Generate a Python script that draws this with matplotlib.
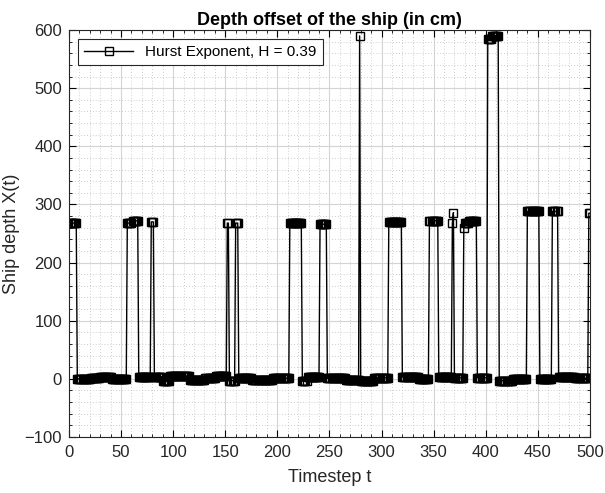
import numpy as np
import matplotlib
matplotlib.use('Agg')
import matplotlib.pyplot as plt
from matplotlib.ticker import MultipleLocator

run_lengths = [7, 13, 9, 11, 15, 5, 6, 12, 3, 8, 7, 19, 15, 10, 11, 2, 6, 3,
               13, 20, 16, 12, 5, 12, 7, 18, 13, 1, 13, 14, 13, 16, 10, 9, 13,
               1, 1, 9, 1, 4, 8, 10, 4, 7, 13, 14, 12, 12, 6, 16, 13, 2]
run_levels = [268, 0, 2, 4, 0, 268, 272, 3, 270, 4, -4, 5, -2, 2, 5, 268, -3, 268,
              2, -2, 1, 268, -4, 4, 266, 1, -2, 590, -3, 2, 270, 3, -1, 272, 4,
              268, 286, 2, 260, 268, 272, 2, 584, 590, -3, -1, 288, 0, 288, 4, 1, 285]

depth = np.repeat(run_levels, run_lengths)
t = np.arange(1, len(depth) + 1)

plt.rcParams['font.family'] = ['Liberation Sans', 'DejaVu Sans']

fig = plt.figure(figsize=(6.05, 4.93), dpi=100)
ax = fig.add_axes([0.114, 0.1136, 0.861, 0.8254])

ax.plot(t, depth, color='k', lw=1.0, marker='s', markersize=5.6,
        markerfacecolor='none', markeredgecolor='k', markeredgewidth=1.0,
        label='Hurst Exponent, H = 0.39')

ax.set_xlim(0, 500)
ax.set_ylim(-100, 600)
ax.xaxis.set_major_locator(MultipleLocator(50))
ax.xaxis.set_minor_locator(MultipleLocator(10))
ax.yaxis.set_major_locator(MultipleLocator(100))
ax.yaxis.set_minor_locator(MultipleLocator(20))

ax.grid(which='major', color='#d4d4d4', lw=0.8, ls='-')
ax.grid(which='minor', color='#bdbdbd', lw=0.6, ls=(0, (1, 2.5)))
ax.set_axisbelow(True)

ax.tick_params(which='both', direction='in', top=True, right=True,
               labelsize=12, labelcolor='#262626')
ax.tick_params(axis='x', which='major', pad=6)
ax.tick_params(axis='y', which='major', pad=5)
ax.tick_params(which='major', length=5)
ax.tick_params(which='minor', length=2.5)
for s in ax.spines.values():
    s.set_color('#262626')
    s.set_linewidth(0.8)

ax.set_title('Depth offset of the ship (in cm)', fontsize=13, fontweight='bold', pad=4)
ax.set_xlabel('Timestep t', fontsize=13, labelpad=6, color='#262626')
ax.set_ylabel('Ship depth X(t)', fontsize=13, labelpad=3, color='#262626')

leg = ax.legend(loc='upper left', fontsize=11, fancybox=False, framealpha=1,
                edgecolor='#262626', borderaxespad=0.6, handlelength=3.2)
leg.get_frame().set_linewidth(0.8)

fig.savefig('out.png', dpi=100)
